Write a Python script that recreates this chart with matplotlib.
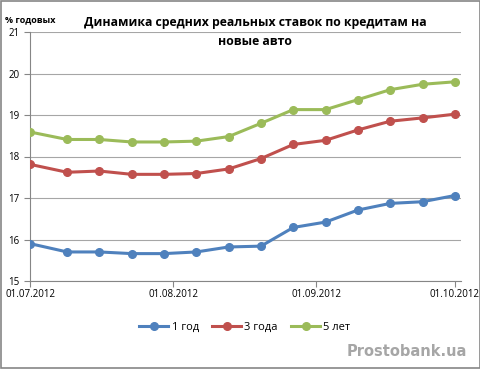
import numpy as np
import pandas as pd
import matplotlib
matplotlib.use("Agg")
import matplotlib.pyplot as plt
import matplotlib.dates as mdates
from matplotlib.patches import Rectangle

# weekly observations, Jul-Oct 2012
dates = pd.to_datetime(["2012-07-01", "2012-07-09", "2012-07-16", "2012-07-23", "2012-07-30",
                        "2012-08-06", "2012-08-13", "2012-08-20", "2012-08-27", "2012-09-03",
                        "2012-09-10", "2012-09-17", "2012-09-24", "2012-10-01"])
rate_1y = [15.90, 15.70, 15.70, 15.66, 15.66, 15.70, 15.82, 15.84, 16.29, 16.42, 16.71, 16.87, 16.91, 17.06]
rate_3y = [17.81, 17.62, 17.65, 17.57, 17.57, 17.59, 17.70, 17.95, 18.29, 18.39, 18.64, 18.85, 18.93, 19.02]
rate_5y = [18.59, 18.41, 18.41, 18.35, 18.35, 18.37, 18.48, 18.80, 19.13, 19.13, 19.37, 19.61, 19.74, 19.80]
labels = ["1 год", "3 года", "5 лет"]
colors = ["#4F81BD", "#C0504D", "#9BBB59"]
xticks = pd.to_datetime(["2012-07-01", "2012-08-01", "2012-09-01", "2012-10-01"])

plt.rcParams['font.family'] = ['Open Sans', 'DejaVu Sans']

W, H = 481, 369
fig = plt.figure(figsize=(W / 100, H / 100), dpi=100)
ax = fig.add_axes([30 / W, (H - 281) / H, (461 - 30) / W, (281 - 32) / H])

for vals, lab, c in zip([rate_1y, rate_3y, rate_5y], labels, colors):
    ax.plot(dates, vals, color=c, lw=2.2, marker='o', ms=5.5, label=lab, zorder=3)

ax.set_ylim(15, 21)
ax.set_yticks(range(15, 22))
ax.set_xlim(pd.Timestamp("2012-07-01") - pd.Timedelta(hours=1), pd.Timestamp("2012-10-02 08:00"))
ax.set_xticks(xticks)
ax.xaxis.set_major_formatter(mdates.DateFormatter("%d.%m.%Y"))
ax.grid(axis='y', color='#a6a6a6', lw=0.8)
ax.set_axisbelow(True)
for s in ['top', 'right']:
    ax.spines[s].set_visible(False)
ax.spines['left'].set_color('#868686')
ax.spines['bottom'].set_color('#868686')
ax.tick_params(axis='both', colors='#868686', labelcolor='black', labelsize=7, length=4, width=0.8)
ax.tick_params(axis='x', pad=2)

fig.text(255 / W, 1 - 32 / H, "Динамика средних реальных ставок по кредитам на\nновые авто",
         ha='center', va='center', fontsize=8.8, fontweight='bold', linespacing=1.55)
fig.text(5 / W, 1 - 20 / H, "% годовых", ha='left', va='center', fontsize=6.5, fontweight='bold')

fig.legend(loc='center', bbox_to_anchor=(245 / W, 1 - 327 / H), ncol=3, frameon=False,
           fontsize=8, handlelength=2.6, columnspacing=1.2, handletextpad=0.3)

fig.text(467 / W, 1 - 351 / H, "Prostobank.ua", ha='right', va='center', fontsize=10.5,
         fontweight='bold', color='#a6a6a6', family='DejaVu Sans')

# chart-area frame, inset so all four sides stay inside the image
fig.add_artist(Rectangle((1 / W, 1 / H), (W - 2) / W, (H - 2) / H, transform=fig.transFigure,
                         fill=False, edgecolor='#868686', lw=1.2))

fig.savefig("out.png", dpi=100)
